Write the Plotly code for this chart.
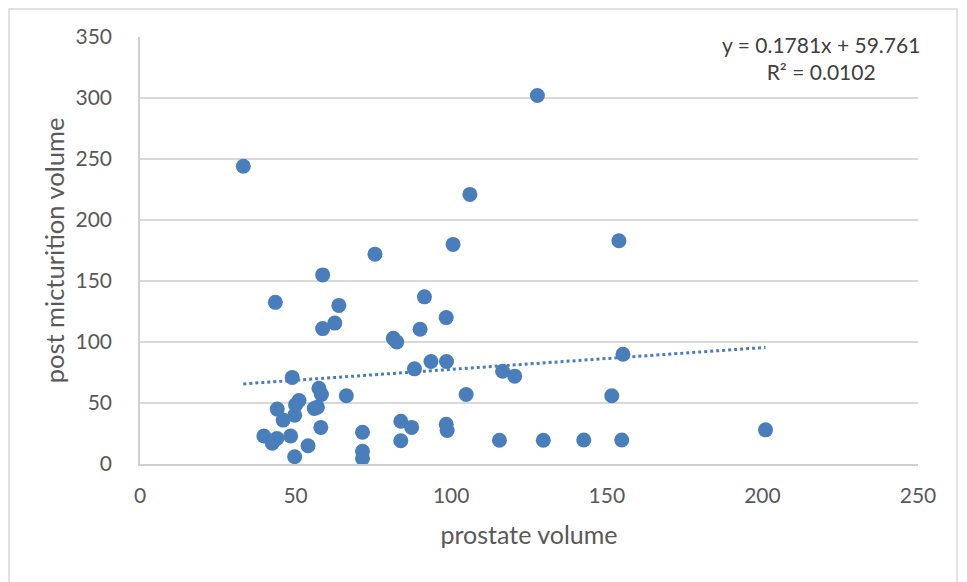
import plotly.graph_objects as go

prostate_volume = [33.2, 127.7, 106, 100.6, 153.9, 75.5, 58.7, 43.5, 63.9, 91.4,
                   62.6, 58.7, 90, 98.4, 81.4, 82.5, 93.5, 98.5, 88.2, 48.9,
                   116.5, 120.4, 155.2, 151.6, 104.8, 66.3, 57.5, 58.3, 57, 56,
                   51.1, 50, 44.1, 49.7, 46, 39.8, 42.5, 44, 48.4, 54,
                   49.7, 58.1, 71.5, 71.5, 71.5, 83.8, 87.3, 83.8, 98.4, 98.7,
                   115.5, 129.6, 142.6, 154.8, 201]
pmv = [244, 302, 221, 180, 183, 172, 155, 132.5, 130, 137,
       115.5, 111, 110.5, 120, 103, 100, 84, 84, 78, 71,
       76, 72, 90, 56, 57, 56, 62, 57, 46.5, 45.5,
       52, 48.5, 45, 40, 36, 23, 17, 21, 23, 15,
       6, 30, 26, 10.5, 4.6, 35, 30, 19, 32.5, 27.5,
       19.5, 19.5, 19.7, 19.7, 28]

slope = 0.1781
intercept = 59.761
equation_text = "y = 0.1781x + 59.761<br>R² = 0.0102"
x_ticks = [0, 50, 100, 150, 200, 250]
y_ticks = [0, 50, 100, 150, 200, 250, 300, 350]

xmin, xmax = min(prostate_volume), max(prostate_volume)
trend_x = [xmin, xmax]
trend_y = [slope * v + intercept for v in trend_x]

blue = "#4A7EBB"
fig = go.Figure()
fig.add_trace(go.Scatter(x=trend_x, y=trend_y, mode="lines",
                         line=dict(color=blue, width=3, dash="dot"),
                         hoverinfo="skip", showlegend=False))
fig.add_trace(go.Scatter(x=prostate_volume, y=pmv, mode="markers",
                         marker=dict(color=blue, size=15, line=dict(width=0)),
                         showlegend=False))

font_family = "Lato, 'Open Sans', sans-serif"
L, R, T, B = 132, 49, 29, 118
W, H = 959, 574
pw = W - L - R
ph = H - T - B
fig.update_layout(
    width=W, height=H,
    margin=dict(l=L, r=R, t=T, b=B),
    paper_bgcolor="white", plot_bgcolor="white",
    font=dict(family=font_family, color="#595959", size=21),
    xaxis=dict(range=[0, 250], tickvals=x_ticks, showgrid=False, zeroline=False,
               showline=True, linecolor="#D0D0D0", linewidth=1.5,
               ticks="", ticklabelstandoff=12, tickfont=dict(size=21, color="#595959"),
               title=dict(text="prostate volume", font=dict(size=25, color="#595959"), standoff=21)),
    yaxis=dict(range=[0, 350], tickvals=y_ticks, showgrid=True, gridcolor="#D9D9D9", gridwidth=1.5,
               zeroline=False, showline=True, linecolor="#D0D0D0", linewidth=1.5,
               ticks="", ticklabelstandoff=22, tickfont=dict(size=21, color="#595959"),
               title=dict(text="post micturition volume", font=dict(size=25.5, color="#595959"), standoff=4)),
    annotations=[dict(text=equation_text, xref="paper", yref="paper", x=(914 - L) / pw, y=1 + 7 / ph,
                      xanchor="right", yanchor="top", showarrow=False, align="center",
                      font=dict(size=21, color="#404040"))],
    shapes=[dict(type="rect", xref="paper", yref="paper",
                 x0=-(L - 1) / pw, x1=(949 - L) / pw, y0=-0.4, y1=1 + (T - 1) / ph,
                 line=dict(color="#D9D9D9", width=1.5), fillcolor="rgba(0,0,0,0)", layer="below")],
)
fig.write_html("out.html")
